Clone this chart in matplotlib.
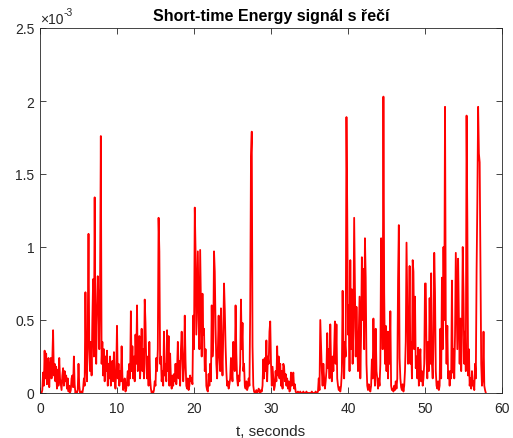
import numpy as np
from matplotlib import pyplot as plt
from matplotlib.ticker import FuncFormatter

# Short-time energy values, in units of 1e-3, one row per second, 0.1 s step
energy_rows = [
    [0.00, 0.00, 0.00, 0.02, 0.14, 0.05, 0.29, 0.10, 0.27, 0.06],  # 0 s
    [0.22, 0.24, 0.04, 0.18, 0.24, 0.10, 0.23, 0.43, 0.12, 0.20],
    [0.08, 0.18, 0.03, 0.16, 0.05, 0.24, 0.10, 0.06, 0.02, 0.12],
    [0.17, 0.05, 0.15, 0.08, 0.12, 0.03, 0.10, 0.01, 0.05, 0.00],
    [0.02, 0.10, 0.12, 0.04, 0.25, 0.06, 0.00, 0.01, 0.00, 0.02],
    [0.20, 0.05, 0.00, 0.00, 0.01, 0.00, 0.03, 0.10, 0.05, 0.69],  # 5 s
    [0.20, 0.08, 0.45, 1.09, 0.30, 0.15, 0.35, 0.12, 0.50, 0.78],
    [0.25, 1.34, 0.40, 0.20, 0.57, 0.80, 0.62, 0.30, 0.75, 1.76],
    [0.20, 0.35, 0.12, 0.30, 0.08, 0.25, 0.15, 0.29, 0.05, 0.20],
    [0.10, 0.25, 0.05, 0.18, 0.22, 0.08, 0.28, 0.10, 0.03, 0.15],
    [0.46, 0.10, 0.20, 0.05, 0.15, 0.08, 0.32, 0.12, 0.02, 0.05],  # 10 s
    [0.10, 0.01, 0.03, 0.08, 0.15, 0.05, 0.20, 0.10, 0.56, 0.15],
    [0.32, 0.10, 0.25, 0.08, 0.40, 0.20, 0.60, 0.15, 0.30, 0.39],
    [0.10, 0.25, 0.44, 0.15, 0.30, 0.10, 0.64, 0.48, 0.20, 0.10],
    [0.25, 0.05, 0.35, 0.10, 0.03, 0.00, 0.01, 0.00, 0.02, 0.08],
    [0.05, 0.24, 0.15, 0.30, 1.20, 0.97, 0.20, 0.25, 0.08, 0.15],  # 15 s
    [0.05, 0.42, 0.12, 0.20, 0.08, 0.43, 0.15, 0.39, 0.05, 0.27],
    [0.10, 0.03, 0.12, 0.05, 0.13, 0.08, 0.20, 0.06, 0.15, 0.35],
    [0.10, 0.22, 0.05, 0.30, 0.42, 0.24, 0.08, 0.18, 0.53, 0.22],
    [0.05, 0.03, 0.10, 0.02, 0.05, 0.12, 0.08, 0.10, 0.06, 0.53],
    [0.30, 1.27, 0.98, 0.40, 0.70, 0.97, 0.50, 0.30, 0.98, 0.60],  # 20 s
    [0.25, 0.68, 0.40, 0.44, 0.15, 0.30, 0.05, 0.02, 0.01, 0.13],
    [0.05, 0.20, 0.08, 0.60, 0.25, 0.35, 0.97, 0.83, 0.46, 0.20],
    [0.10, 0.30, 0.53, 0.25, 0.15, 0.58, 0.30, 0.12, 0.40, 0.75],
    [0.57, 0.32, 0.15, 0.05, 0.08, 0.03, 0.06, 0.10, 0.24, 0.15],
    [0.08, 0.35, 0.20, 0.15, 0.60, 0.27, 0.10, 0.05, 0.12, 0.08],  # 25 s
    [0.20, 0.64, 0.30, 0.48, 0.15, 0.20, 0.05, 0.03, 0.08, 0.02],
    [0.04, 0.10, 0.05, 0.57, 1.62, 1.79, 0.32, 0.05, 0.01, 0.00],
    [0.01, 0.02, 0.00, 0.01, 0.03, 0.01, 0.00, 0.02, 0.01, 0.05],
    [0.23, 0.10, 0.24, 0.15, 0.36, 0.08, 0.25, 0.20, 0.42, 0.49],
    [0.20, 0.05, 0.18, 0.10, 0.02, 0.05, 0.15, 0.08, 0.32, 0.12],  # 30 s
    [0.25, 0.10, 0.20, 0.05, 0.15, 0.03, 0.20, 0.18, 0.08, 0.13],
    [0.05, 0.10, 0.03, 0.08, 0.01, 0.02, 0.14, 0.05, 0.10, 0.14],
    [0.03, 0.06, 0.01, 0.00, 0.00, 0.01, 0.00, 0.00, 0.01, 0.00],
    [0.00, 0.00, 0.01, 0.00, 0.00, 0.00, 0.01, 0.00, 0.00, 0.00],
    [0.00, 0.00, 0.00, 0.01, 0.00, 0.00, 0.00, 0.00, 0.01, 0.00],  # 35 s
    [0.00, 0.01, 0.10, 0.02, 0.50, 0.32, 0.15, 0.05, 0.20, 0.10],
    [0.03, 0.08, 0.15, 0.41, 0.17, 0.30, 0.10, 0.47, 0.20, 0.08],
    [0.25, 0.15, 0.30, 0.49, 0.20, 0.47, 0.10, 0.05, 0.02, 0.04],
    [0.01, 0.05, 0.15, 0.70, 0.30, 0.10, 0.35, 0.25, 1.89, 1.26],
    [0.40, 0.60, 0.15, 0.91, 0.30, 0.71, 0.20, 0.45, 1.20, 0.70],  # 40 s
    [0.25, 0.59, 0.35, 0.15, 0.40, 0.66, 0.10, 0.40, 0.93, 0.50],
    [0.85, 0.30, 1.06, 0.79, 0.20, 0.05, 0.02, 0.06, 0.03, 0.01],
    [0.05, 0.23, 0.10, 0.51, 0.18, 0.05, 0.44, 0.15, 0.10, 0.03],
    [0.10, 0.05, 0.20, 1.06, 0.82, 0.30, 2.03, 0.69, 0.20, 0.46],
    [0.15, 0.42, 0.10, 0.42, 0.20, 0.56, 0.05, 0.02, 0.03, 0.01],  # 45 s
    [0.05, 0.02, 0.08, 0.03, 0.10, 0.77, 1.15, 0.24, 0.10, 0.04],
    [0.02, 0.06, 0.01, 0.05, 0.15, 0.35, 1.03, 0.63, 0.20, 0.40],
    [0.87, 0.20, 0.35, 0.10, 0.91, 0.83, 0.30, 0.66, 0.17, 0.25],
    [0.10, 0.31, 0.05, 0.20, 0.30, 0.08, 0.15, 0.05, 0.10, 0.20],
    [0.75, 0.75, 0.24, 0.10, 0.35, 0.15, 0.65, 0.20, 0.82, 0.20],  # 50 s
    [0.10, 0.35, 0.96, 0.69, 0.15, 0.05, 0.03, 0.08, 0.02, 0.05],
    [0.44, 0.10, 0.79, 0.30, 1.00, 0.50, 1.96, 0.48, 0.20, 0.46],
    [0.10, 0.15, 0.05, 0.15, 0.10, 0.77, 0.14, 0.30, 0.10, 0.40],
    [0.96, 0.62, 0.30, 0.92, 0.52, 0.20, 0.51, 0.15, 0.40, 1.00],
    [0.69, 0.20, 0.42, 0.15, 1.90, 1.17, 0.12, 0.30, 0.05, 0.10],  # 55 s
    [0.03, 0.15, 0.05, 0.08, 0.02, 0.20, 0.10, 0.84, 1.32, 1.96],
    [1.64, 1.58, 0.88, 0.20, 0.05, 0.10, 0.42, 0.05, 0.02, 0.00],
]
STEP = 0.1  # seconds between frames

x_ticks = [0, 10, 20, 30, 40, 50, 60]
y_ticks = [0, 0.5, 1, 1.5, 2, 2.5]  # x 1e-3
TITLE = "Short-time Energy signál s řečí"
XLABEL = "t, seconds"

energy = np.array(energy_rows).ravel() * 1e-3
t = np.arange(len(energy)) * STEP

plt.rcParams['font.family'] = ['Liberation Sans', 'DejaVu Sans']
GRAY = "#262626"

fig = plt.figure(figsize=(5.13, 4.39), dpi=100)
ax = fig.add_axes([40 / 513, 45 / 439, 462 / 513, 365 / 439])

ax.plot(t, energy, color="red", linewidth=1.3)

ax.set_xlim(0, 60)
ax.set_ylim(0, 2.5e-3)
ax.set_xticks(x_ticks)
ax.set_yticks([v * 1e-3 for v in y_ticks])
ax.yaxis.set_major_formatter(FuncFormatter(lambda v, p: f"{v * 1e3:g}"))

ax.tick_params(direction="in", top=True, right=True, length=4, width=0.6,
               colors=GRAY, labelsize=10)
ax.tick_params(axis="x", pad=6)
ax.tick_params(axis="y", pad=4)
for s in ax.spines.values():
    s.set_color(GRAY)
    s.set_linewidth(0.6)

ax.set_title(TITLE, fontsize=11.5, fontweight="bold", color="black", pad=6)
ax.set_xlabel(XLABEL, fontsize=11, color=GRAY, labelpad=6)

# MATLAB-style exponent label above the y axis
ax.text(0.0, 1.005, "×10", transform=ax.transAxes, fontsize=10, color=GRAY,
        ha="left", va="bottom")
ax.text(0.052, 1.03, "-3", transform=ax.transAxes, fontsize=7.5, color=GRAY,
        ha="left", va="bottom")

fig.savefig("out.png", dpi=100)
plt.close(fig)
